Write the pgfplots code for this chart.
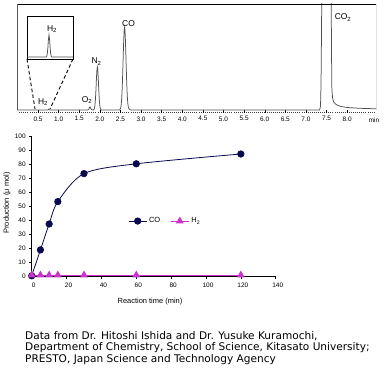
\documentclass[border=0pt]{standalone}
\usepackage{pgfplots}
\pgfplotsset{compat=1.18}
\usepackage{fontspec}
\setmainfont{Liberation Sans}
\newfontfamily\verd{DejaVu Sans}
\definecolor{navyco}{RGB}{10,10,80}
\definecolor{magh}{RGB}{204,51,204}
\definecolor{trace}{RGB}{80,80,80}
\pgfplotstableread{
t h
0 0
0.70 0
0.74 0
0.76 0.8
0.78 0
1.70 0
1.73 0.5
1.75 2.5
1.765 3
1.78 1.5
1.80 0.3
1.84 0
1.86 0.7
1.87 1.9
1.88 4.3
1.89 8.7
1.90 15.5
1.91 24.2
1.92 33.3
1.93 40.3
1.94 43
1.95 40.3
1.96 33.3
1.97 24.2
1.98 15.5
1.99 8.7
2.00 4.3
2.01 1.9
2.02 0.7
2.04 0
2.47 0
2.48 0.2
2.50 1.4
2.51 3.0
2.52 6.1
2.53 11.2
2.54 19.1
2.55 29.9
2.56 43.2
2.57 57.5
2.58 70.5
2.59 79.7
2.60 83
2.61 79.7
2.62 70.5
2.63 57.5
2.64 43.2
2.65 29.9
2.66 19.1
2.67 11.2
2.68 6.1
2.69 3.2
2.70 1.8
2.72 0.6
2.75 0
7.33 0
7.35 3
7.36 12
7.37 40
7.38 90
7.39 140
7.61 140
7.62 60
7.63 20
7.65 11
7.68 7.5
7.75 5
7.85 3.5
8.00 2.5
8.30 1.7
8.70 1.2
}\chrom
\pgfplotstableread{
t h
0.60 0
0.733 0
0.737 0.6
0.741 3.0
0.745 9.0
0.749 17.6
0.753 22
0.757 17.6
0.761 9.0
0.765 3.0
0.769 0.6
0.773 0
0.92 0
}\inset
\begin{document}
\begin{tikzpicture}
\useasboundingbox (0bp,0bp) rectangle (386bp,369bp);
% ---------- chromatogram ----------
\begin{axis}[at={(17.4bp,256bp)},anchor=south west,scale only axis,
  width=358.6bp,height=109bp,
  xmin=0,xmax=8.70,ymin=-3,ymax=106,enlargelimits=false,
  axis line style={draw=none},
  ytick=\empty,
  xtick={0.5,1.0,...,8.0},
  minor xtick={0.05,0.1,...,8.66},
  xtick pos=left,
  tick align=inside,
  major tick length=2.5bp, minor tick length=1.3bp,
  tick style={black,line width=0.4bp},
  minor tick style={black!75,line width=0.5bp},
  xticklabel style={font=\fontsize{6.5}{7}\selectfont,
    /pgf/number format/.cd,fixed,fixed zerofill,precision=1,assume math mode=true},
  ]
\addplot[trace,line width=0.75bp] table[x=t,y=h] {\chrom};
\draw[black,line width=0.6bp] (rel axis cs:0,0.0275) -- (rel axis cs:0,1)
  -- (rel axis cs:1,1) -- (rel axis cs:1,0.0275);
\end{axis}
% inset
\begin{axis}[at={(27bp,310bp)},anchor=south west,scale only axis,
  width=46bp,height=43bp,
  xmin=0.6,xmax=0.92,ymin=-2,ymax=41,enlargelimits=false,
  xtick=\empty,ytick=\empty,
  axis line style={black,line width=0.6bp},
  ]
\addplot[trace,line width=0.75bp] table[x=t,y=h] {\inset};
\end{axis}
\draw[black,line width=0.9bp,dash pattern=on 3.5bp off 2.5bp] (27bp,310bp) -- (35bp,260bp);
\draw[black,line width=0.9bp,dash pattern=on 3.5bp off 2.5bp] (73bp,310bp) -- (50bp,260bp);
\begin{scope}[every node/.style={font=\fontsize{8.5}{9}\selectfont,inner sep=0pt}]
\node at (52bp,340bp) {H\textsubscript{2}};
\node at (43bp,267bp) {H\textsubscript{2}};
\node at (87bp,269bp) {O\textsubscript{2}};
\node at (96.5bp,307.5bp) {N\textsubscript{2}};
\node at (128.5bp,345bp) {CO};
\node at (343bp,351.5bp) {CO\textsubscript{2}};
\end{scope}
\node[font=\fontsize{6.5}{7}\selectfont,inner sep=0pt] at (374bp,249bp) {min};
% ---------- production ----------
\begin{axis}[at={(31.7bp,92.5bp)},anchor=south west,scale only axis,
  width=244bp,height=140bp,
  xmin=0,xmax=140,ymin=0,ymax=100,enlargelimits=false,
  axis lines=left,
  axis line style={-,black,line width=0.6bp},
  xtick={0,20,...,140}, ytick={0,10,...,100},
  tick align=outside, major tick length=2.5bp,
  tick style={black,line width=0.5bp},
  ticklabel style={font=\fontsize{6.5}{7}\selectfont},
  xticklabel style={xshift=2bp},
  /pgf/number format/assume math mode=true,
  legend style={at={(0.395,0.396)},anchor=west,draw=none,fill=none,
    legend columns=2,font=\fontsize{7.5}{8}\selectfont,inner sep=0pt,
    /tikz/every even column/.append style={column sep=8bp}},
  legend image code/.code={\draw[mark repeat=2,mark phase=2]
    plot coordinates {(0bp,0bp) (9bp,0bp) (18bp,0bp)};},
  ]
\addplot[navyco,line width=0.8bp,smooth,mark=*,mark size=3.2bp,
  mark options={fill=navyco,draw=navyco}]
  coordinates {(0,0.5) (5,19) (10,37.5) (15,53.5) (30,73.5) (60,80.5) (120,87.5)};
\addlegendentry{CO}
\addplot[magh,line width=1.1bp,mark=triangle*,mark size=3.4bp,
  mark options={fill=magh,draw=magh}]
  coordinates {(0,1) (5,1) (10,1) (15,1) (30,1) (60,1) (120,1)};
\addlegendentry{H\textsubscript{2}}
\end{axis}
\node[font=\fontsize{7.5}{8}\selectfont,rotate=90] at (7bp,166bp) {Production (μ mol)};
\node[font=\fontsize{7.5}{8}\selectfont] at (150bp,67bp) {Reaction time (min)};
% ---------- credit ----------
\node[anchor=base west,inner sep=0pt,align=left,
  font=\verd\fontsize{10.6}{11.8}\selectfont] at (25bp,6.4bp)
  {Data from Dr. Hitoshi Ishida and Dr. Yusuke Kuramochi,\\
   Department of Chemistry, School of Science, Kitasato University;\\
   PRESTO, Japan Science and Technology Agency};
\end{tikzpicture}
\end{document}
